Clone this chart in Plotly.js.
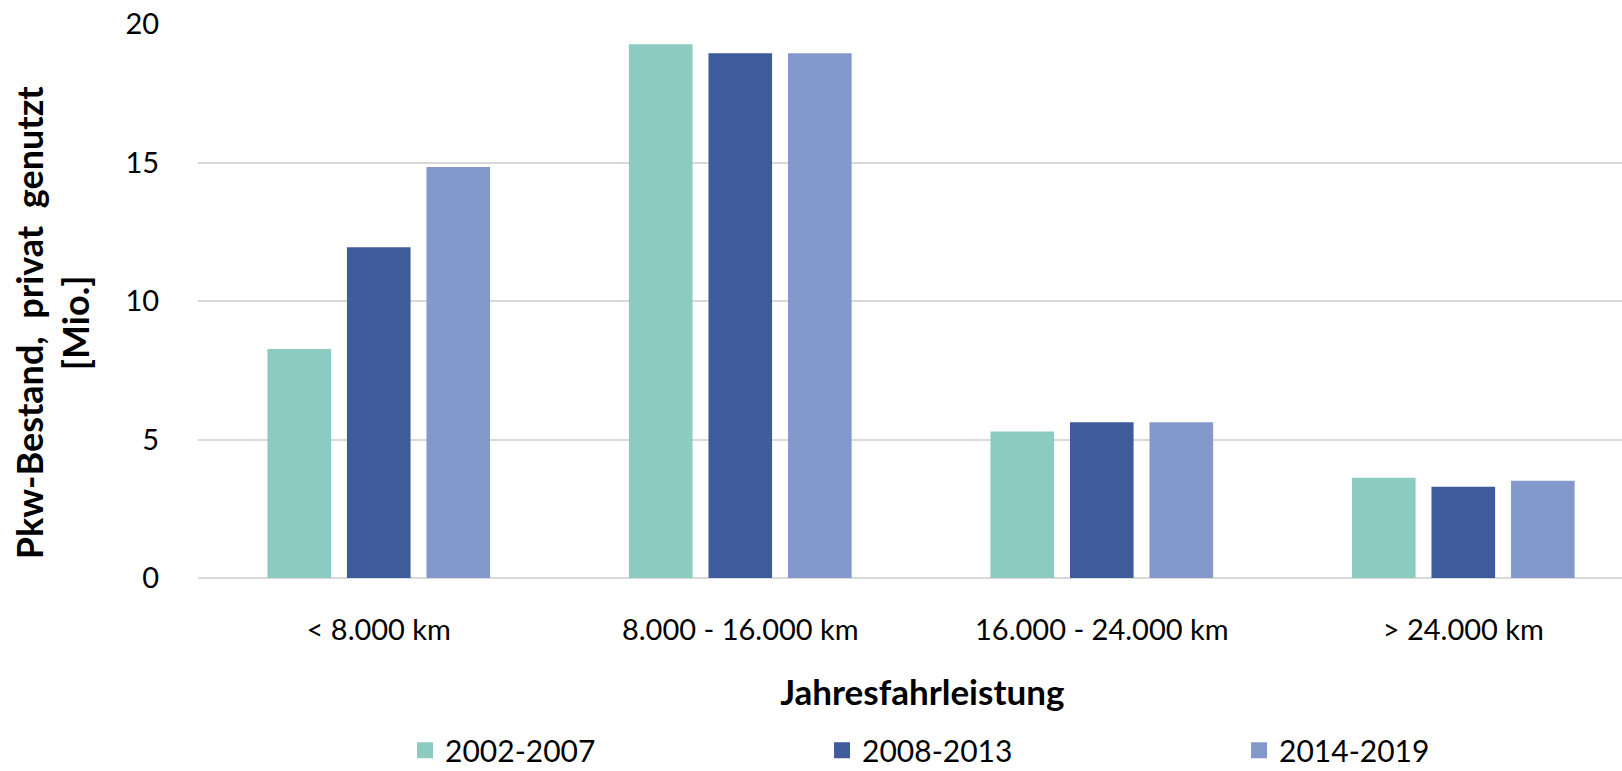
<!DOCTYPE html>
<html>
<head>
<meta charset="utf-8">
<script src="https://cdn.plot.ly/plotly-3.0.1.min.js"></script>
<style>html,body{margin:0;padding:0;background:#fff}#chart{width:1622px;height:771px}</style>
</head>
<body>
<div id="chart"></div>
<script>
const categories = ["< 8.000 km", "8.000 - 16.000 km", "16.000 - 24.000 km", "> 24.000 km"];
const series2002_2007 = [8.27, 19.27, 5.29, 3.62];
const series2008_2013 = [11.94, 18.94, 5.62, 3.29];
const series2014_2019 = [14.84, 18.94, 5.62, 3.51];
const seriesNames = ["2002-2007", "2008-2013", "2014-2019"];
const yTicks = [0, 5, 10, 15, 20];

const colors = ["#8ccbc1", "#3e5b9b", "#8399cc"];
const values = [series2002_2007, series2008_2013, series2014_2019];
const catIdx = categories.map((c, k) => k);
const traces = values.map((v, i) => ({
  type: "bar",
  name: seriesNames[i],
  x: catIdx,
  y: v,
  marker: {color: colors[i], line: {width: 0}},
  showlegend: false,
  hoverinfo: "x+y+name"
}));
// legend entries with larger square keys
seriesNames.forEach((n, i) => traces.push({
  type: "scatter", mode: "markers", name: n,
  x: [null], y: [null],
  marker: {symbol: "square", size: 20, color: colors[i]},
  showlegend: true, hoverinfo: "skip"
}));

const labelFont = "Lato, 'Open Sans', sans-serif";
const pad = "&nbsp;&nbsp;&nbsp;&nbsp;&nbsp;";
const layout = {
  width: 1622, height: 771,
  margin: {l: 198, r: 0, t: 24, b: 193, autoexpand: false},
  paper_bgcolor: "#fff", plot_bgcolor: "#fff",
  barmode: "group", bargap: 0.34, bargroupgap: 0.2,
  xaxis: {
    range: [-0.5, 3.439], automargin: false,
    tickmode: "array", tickvals: catIdx, ticktext: categories,
    ticks: "outside", ticklen: 26, tickcolor: "rgba(0,0,0,0)",
    showgrid: false, zeroline: false, showline: false,
    tickfont: {family: labelFont, size: 29, color: "#000"},
    title: {text: "&nbsp;&nbsp;&nbsp;Jahresfahrleistung", font: {family: labelFont, size: 35, color: "#000", weight: "bold"}, standoff: 35}
  },
  yaxis: {
    range: [0, 20], automargin: false,
    tickmode: "array", tickvals: yTicks, ticktext: yTicks.map(String),
    ticks: "outside", ticklen: 32, tickcolor: "rgba(0,0,0,0)",
    showgrid: true, gridcolor: "#d9d9d9", gridwidth: 2,
    zeroline: true, zerolinecolor: "#d9d9d9", zerolinewidth: 2,
    showline: false,
    tickfont: {family: labelFont, size: 29, color: "#000"},
    title: {text: "Pkw-Bestand,&nbsp; privat&nbsp; genutzt" + pad + "<br>[Mio.]" + pad, font: {family: labelFont, size: 36, color: "#000", weight: "bold"}, standoff: 24}
  },
  legend: {
    orientation: "h", xref: "paper", yref: "paper",
    x: 0.1454, xanchor: "left", y: -0.311, yanchor: "middle",
    font: {family: labelFont, size: 30, color: "#000"},
    entrywidth: 372, itemwidth: 30, itemsizing: "trace"
  },
  showlegend: true
};
Plotly.newPlot("chart", traces, layout, {displayModeBar: false, staticPlot: true});
</script>
</body>
</html>
